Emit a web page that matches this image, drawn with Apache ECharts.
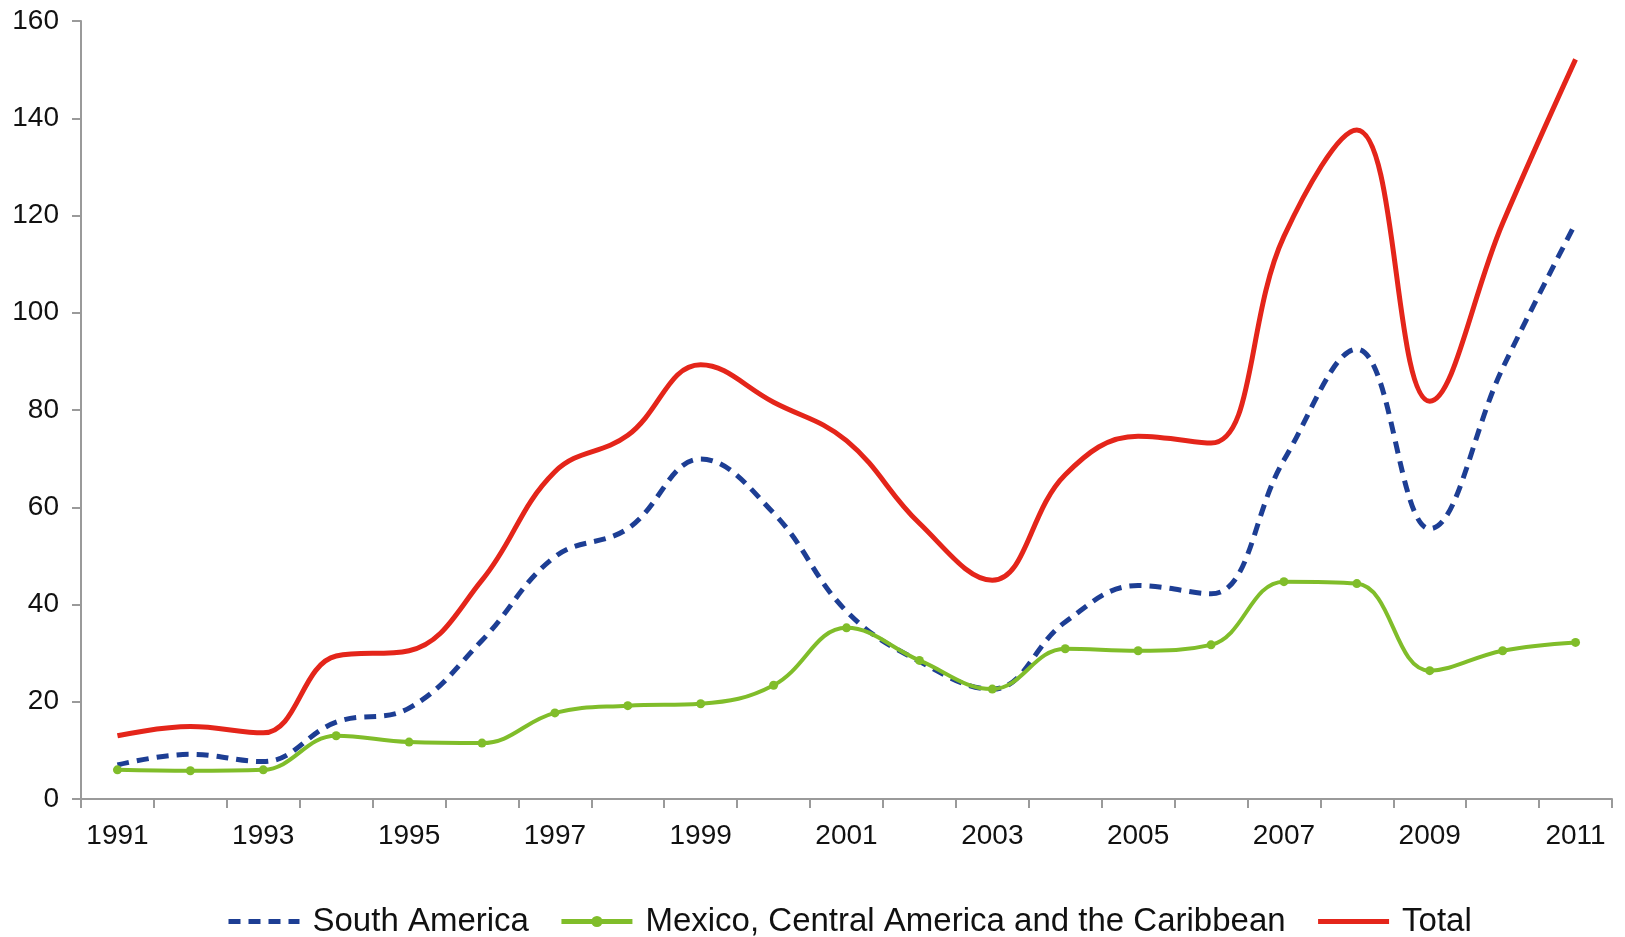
<!DOCTYPE html>
<html>
<head>
<meta charset="utf-8">
<script src="https://cdn.jsdelivr.net/npm/echarts@6/dist/echarts.min.js"></script>
<style>
html,body{margin:0;padding:0;background:#fff;}
#chart{width:1625px;height:937px;}
</style>
</head>
<body>
<div id="chart"></div>
<script>
const years = ['1991','1992','1993','1994','1995','1996','1997','1998','1999','2000','2001','2002','2003','2004','2005','2006','2007','2008','2009','2010','2011'];
const southAmerica = [7.0, 9.2, 7.7, 15.8, 18.7, 32.6, 49.8, 55.6, 69.9, 58.8, 38.6, 28.3, 22.6, 36.4, 43.9, 42.2, 69.7, 92.5, 55.6, 88.6, 118.4];
const mexicoCA = [6.0, 5.8, 6.0, 13.0, 11.7, 11.5, 17.7, 19.2, 19.6, 23.4, 35.2, 28.5, 22.6, 30.9, 30.5, 31.7, 44.7, 44.3, 26.4, 30.5, 32.2];
const total = [13.0, 14.9, 13.6, 29.4, 30.5, 45.0, 67.3, 74.8, 89.3, 81.6, 73.7, 56.7, 45.0, 66.7, 74.6, 73.2, 115.7, 137.6, 81.8, 118.4, 152.1];
const seriesNames = ['South America', 'Mexico, Central America and the Caribbean', 'Total'];

const chart = echarts.init(document.getElementById('chart'));
const font = 'Liberation Sans, Arial, sans-serif';
chart.setOption({
  backgroundColor: '#fff',
  animation: false,
  grid: {left: 81, right: 13, top: 21, bottom: 138, containLabel: false},
  xAxis: {
    type: 'category',
    data: years,
    boundaryGap: true,
    axisLine: {lineStyle: {color: '#9a9a9a', width: 2}},
    axisTick: {show: true, interval: 0, length: 9, lineStyle: {color: '#9a9a9a', width: 2}},
    axisLabel: {interval: 1, margin: 23, color: '#111', fontSize: 28, fontFamily: font}
  },
  yAxis: {
    type: 'value',
    min: 0, max: 160, interval: 20,
    splitLine: {show: false},
    axisLine: {show: true, lineStyle: {color: '#9a9a9a', width: 2}},
    axisTick: {show: true, length: 9, lineStyle: {color: '#9a9a9a', width: 2}},
    axisLabel: {margin: 22, color: '#111', fontSize: 28, fontFamily: font}
  },
  legend: {
    top: 905,
    left: 226,
    padding: 0,
    itemWidth: 71,
    itemHeight: 14,
    itemGap: 30,
    lineStyle: {width: 5},
    textStyle: {fontSize: 33, color: '#111', fontFamily: font, padding: [0, 0, 0, 8]},
    data: [
      {name: seriesNames[0], itemStyle: {opacity: 0}},
      {name: seriesNames[1]},
      {name: seriesNames[2], itemStyle: {opacity: 0}}
    ]
  },
  series: [
    {
      name: seriesNames[0], type: 'line', data: southAmerica, smooth: 0.4,
      symbol: 'none',
      lineStyle: {color: '#1d3e94', width: 5, type: [12, 8]},
      itemStyle: {color: '#1d3e94'}
    },
    {
      name: seriesNames[1], type: 'line', data: mexicoCA, smooth: 0.4,
      symbol: 'circle', symbolSize: 9,
      lineStyle: {color: '#80bd2a', width: 4},
      itemStyle: {color: '#80bd2a'}
    },
    {
      name: seriesNames[2], type: 'line', data: total, smooth: 0.4,
      symbol: 'none',
      lineStyle: {color: '#e4251a', width: 5},
      itemStyle: {color: '#e4251a'}
    }
  ]
});
</script>
</body>
</html>
